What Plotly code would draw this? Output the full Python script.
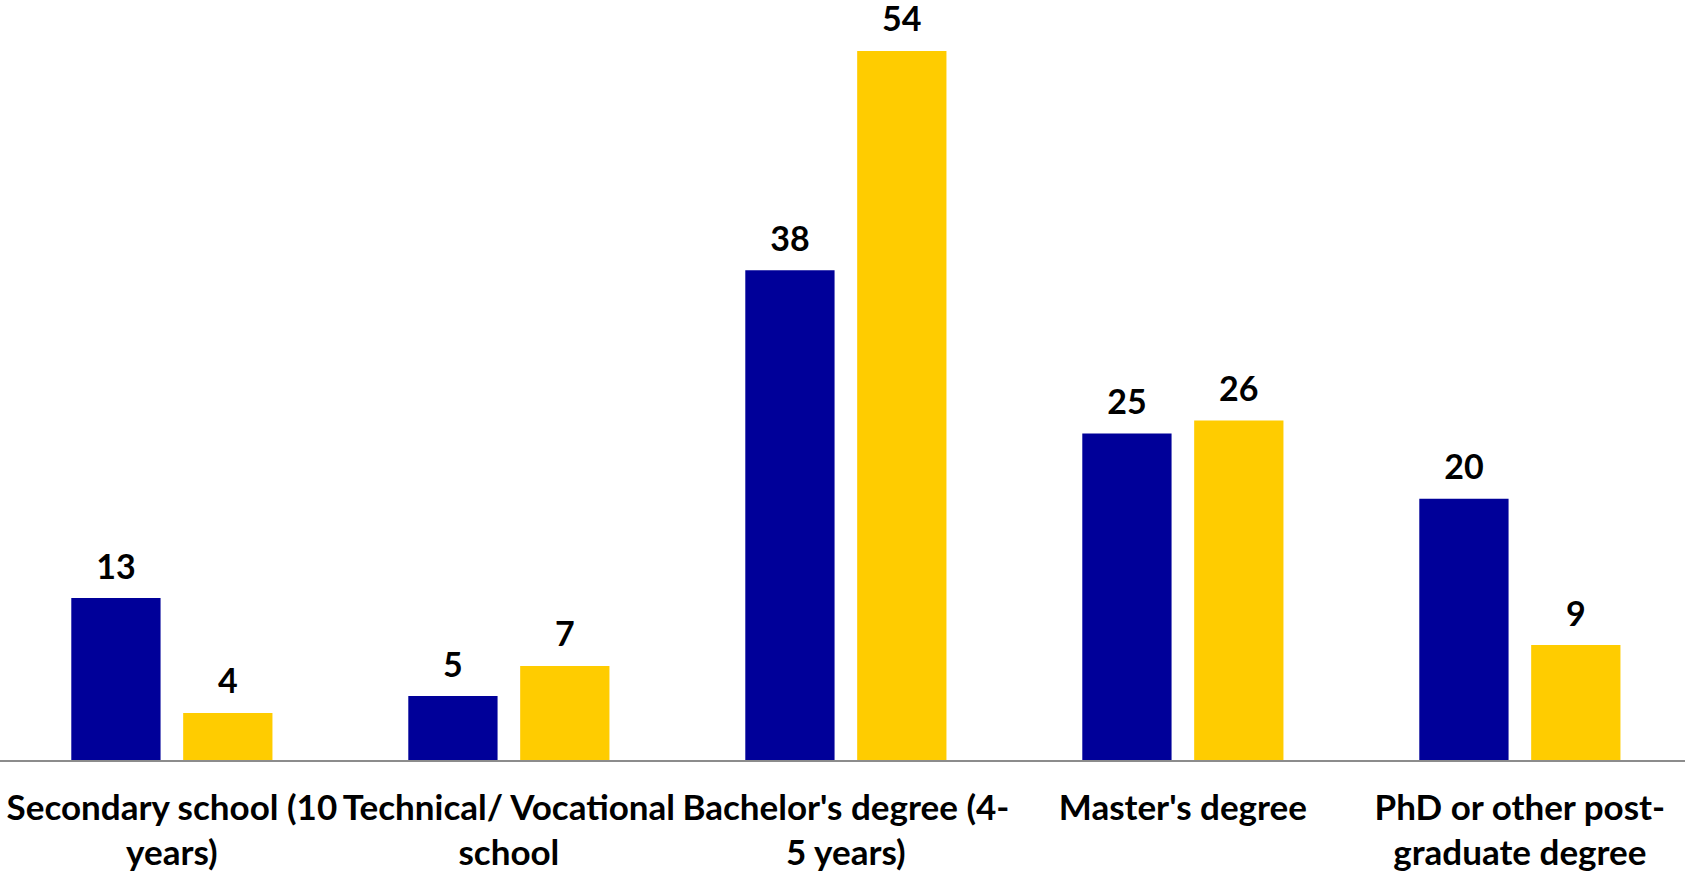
import plotly.graph_objects as go

categories = [
    "Secondary school (10<br>years)",
    "Technical/ Vocational<br>school",
    "Bachelor's degree (4-<br>5 years)",
    "Master's degree",
    "PhD or other post-<br>graduate degree",
]
# bar values and the rounded labels shown
series_a = [12.4, 4.9, 37.5, 25.0, 20.0]
series_b = [3.6, 7.2, 54.3, 26.0, 8.8]
labels_a = ["13", "5", "38", "25", "20"]
labels_b = ["4", "7", "54", "26", "9"]

BLUE = "#000099"
YELLOW = "#FFCC00"
FONT = "Lato"
GAP = 0.336

fig = go.Figure()
for name, vals, labs, col in [("Series A", series_a, labels_a, BLUE),
                              ("Series B", series_b, labels_b, YELLOW)]:
    fig.add_trace(go.Bar(
        x=categories, y=vals, name=name, marker=dict(color=col, line=dict(width=0)),
        offsetgroup=name,
    ))
    fig.add_trace(go.Scatter(
        x=categories, y=vals, mode="markers+text", text=labs,
        textposition="top center", offsetgroup=name,
        marker=dict(size=16, opacity=0, color=col),
        textfont=dict(family=FONT, size=34, color="black", weight="bold"),
        showlegend=False, hoverinfo="skip", cliponaxis=False,
    ))

fig.update_layout(
    width=1685, height=875,
    margin=dict(l=0, r=0, t=0, b=115, autoexpand=False),
    paper_bgcolor="white", plot_bgcolor="white",
    barmode="group", bargap=GAP, bargroupgap=0.202,
    scattermode="group", scattergap=GAP,
    showlegend=False,
    xaxis=dict(
        showline=True, linecolor="#8c8c8c", linewidth=1.5, showgrid=False,
        tickfont=dict(family=FONT, size=35, color="black", weight="bold"),
        ticks="", ticklabelstandoff=16, automargin=False,
        range=[-0.51, 4.49],
    ),
    yaxis=dict(range=[0, 58.2], visible=False, showgrid=False, automargin=False),
)

fig.write_html("out.html", config={"displayModeBar": False},
               post_script="document.body.style.margin='0';")
